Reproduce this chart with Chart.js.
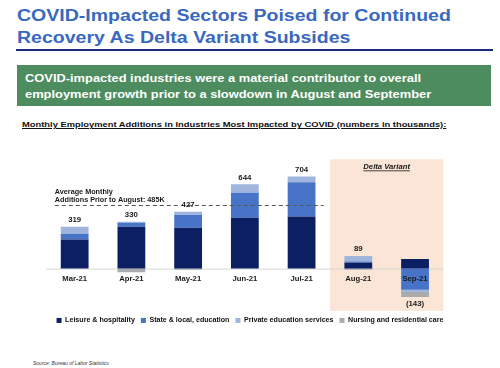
<!DOCTYPE html>
<html>
<head>
<meta charset="utf-8">
<script src="https://cdn.jsdelivr.net/npm/chart.js@4/dist/chart.umd.min.js"></script>
<style>
  html, body { margin: 0; padding: 0; }
  body { width: 500px; height: 368px; position: relative; overflow: hidden; background: #fff;
         font-family: "Liberation Sans", Arial, sans-serif; }
  .t { position: absolute; white-space: nowrap; transform-origin: 0 0; line-height: 1; }
  .title { color: #3868c0; font-weight: bold; font-size: 16px; transform: scaleX(1.22); left: 17px; }
  .green { position: absolute; left: 17px; top: 65px; width: 474px; height: 41px; background: #4d8c5e; }
  .gt { color: #fff; font-weight: bold; font-size: 11.2px; transform: scaleX(1.15); left: 25px; }
  .rule { position: absolute; left: 16px; top: 48.5px; width: 477px; height: 2px; background: #1d2a7e; }
  #wrap { position: absolute; left: 0; top: 140px; width: 500px; height: 194px; }
</style>
</head>
<body>
<div class="t title" style="top:7.8px">COVID-Impacted Sectors Poised for Continued</div>
<div class="t title" style="top:29.8px">Recovery As Delta Variant Subsides</div>
<div class="rule"></div>
<div class="green"></div>
<div class="t gt" style="top:73.2px">COVID-impacted industries were a material contributor to overall</div>
<div class="t gt" style="top:88.8px">employment growth prior to a slowdown in August and September</div>
<div class="t" style="left:22px;top:121.1px;font-size:7.8px;font-weight:bold;color:#111;text-decoration:underline;transform:scaleX(1.2)">Monthly Employment Additions in Industries Most Impacted by COVID (numbers in thousands):</div>
<div id="wrap"><canvas id="c"></canvas></div>
<div class="t" style="left:33px;top:361px;font-size:5px;font-style:italic;color:#333">Source: Bureau of Labor Statistics</div>

<script>
// ---- data (thousands of jobs) ----
const months     = ['Mar-21', 'Apr-21', 'May-21', 'Jun-21', 'Jul-21', 'Aug-21', 'Sep-21'];
const leisure    = [223, 320, 312, 388, 398, 45, 74];
const stateLocal = [44, 31, 97, 192, 262, 10, -161];
const privateEd  = [52, 7, 26, 64, 44, 42, -17];
const nursing    = [0, -28, -8, 0, 0, -8, -39];
const seriesNames = ['Leisure & hospitality', 'State & local, education', 'Private education services', 'Nursing and residential care'];
const deltaMonths = ['Aug-21', 'Sep-21'];
const avgLabel = ['Average Monthly', 'Additions Prior to August: '];

const colors = ['#0c1f63', '#4874c8', '#9fb5de', '#a9abaf'];
const allSeries = [leisure, stateLocal, privateEd, nursing];
const totals = months.map((_, i) => allSeries.reduce((s, a) => s + a[i], 0));
const preDelta = totals.filter((_, i) => !deltaMonths.includes(months[i]));
const avgPrior = Math.round(preDelta.reduce((a, b) => a + b, 0) / preDelta.length);

const FONT = '"Liberation Sans", Arial, sans-serif';
const SX = 1.15;
function txt(ctx, s, x, y, size, style, align, baseline, color) {
  ctx.save();
  ctx.font = style + ' ' + size + 'px ' + FONT;
  ctx.fillStyle = color || '#1a1a1a';
  ctx.textAlign = align;
  ctx.textBaseline = baseline;
  ctx.translate(x, y);
  ctx.scale(SX, 1);
  ctx.fillText(s, 0, 0);
  const w = ctx.measureText(s).width * SX;
  ctx.restore();
  return w;
}

const annot = {
  id: 'annot',
  beforeDatasetsDraw(chart) {
    const { ctx, chartArea: ca, scales: { x, y } } = chart;
    const i0 = months.indexOf(deltaMonths[0]);
    const bx = (x.getPixelForValue(i0 - 1) + x.getPixelForValue(i0)) / 2;
    ctx.save();
    ctx.fillStyle = '#fbe5d7';
    ctx.fillRect(bx, ca.top, ca.right - bx, ca.bottom - ca.top);
    const y0 = y.getPixelForValue(0);
    ctx.strokeStyle = '#d6d6d6';
    ctx.lineWidth = 1;
    ctx.beginPath();
    ctx.moveTo(ca.left, y0 + 0.5);
    ctx.lineTo(ca.right, y0 + 0.5);
    ctx.stroke();
    ctx.restore();
  },
  afterDatasetsDraw(chart) {
    const { ctx, chartArea: ca, scales: { x, y } } = chart;
    const cw = x.getPixelForValue(1) - x.getPixelForValue(0);
    const y0 = y.getPixelForValue(0);
    // average dashed line
    const ya = Math.round(y.getPixelForValue(avgPrior)) + 0.5;
    const xa0 = x.getPixelForValue(0) - 0.35 * cw;
    const xa1 = x.getPixelForValue(4) + 0.39 * cw;
    ctx.save();
    ctx.strokeStyle = '#555';
    ctx.lineWidth = 1;
    ctx.setLineDash([4, 3]);
    ctx.beginPath();
    ctx.moveTo(xa0, ya);
    ctx.lineTo(xa1, ya);
    ctx.stroke();
    ctx.restore();
    txt(ctx, avgLabel[0], xa0, ya - 11.6, 6.3, 'bold', 'left', 'alphabetic');
    txt(ctx, avgLabel[1] + avgPrior + 'K', xa0, ya - 4, 6.3, 'bold', 'left', 'alphabetic');
    // totals
    months.forEach((m, i) => {
      const pos = allSeries.reduce((s, a) => s + Math.max(0, a[i]), 0);
      const neg = allSeries.reduce((s, a) => s + Math.min(0, a[i]), 0);
      const xc = x.getPixelForValue(i);
      const t = totals[i];
      if (t >= 0) {
        txt(ctx, String(t), xc, y.getPixelForValue(pos) - 4.5, 6.8, 'bold', 'center', 'alphabetic');
      } else {
        txt(ctx, '(' + Math.abs(t) + ')', xc, y.getPixelForValue(neg) + 4, 6.8, 'bold', 'center', 'top');
      }
      txt(ctx, m, xc, y0 + 12, 6.7, 'bold', 'center', 'alphabetic');
    });
    // Delta Variant label
    const i0 = months.indexOf(deltaMonths[0]);
    const bx = (x.getPixelForValue(i0 - 1) + x.getPixelForValue(i0)) / 2;
    const cx = (bx + ca.right) / 2;
    const by = ca.top + 10;
    const w = txt(ctx, 'Delta Variant', cx, by, 6.7, 'italic bold', 'center', 'alphabetic');
    ctx.save();
    ctx.strokeStyle = '#1a1a1a';
    ctx.lineWidth = 0.8;
    ctx.beginPath();
    ctx.moveTo(cx - w / 2, by + 1.5);
    ctx.lineTo(cx + w / 2, by + 1.5);
    ctx.stroke();
    ctx.restore();
  }
};

const hiddenAxis = (pos, width) => ({
  position: pos,
  display: true,
  grid: { display: false },
  border: { display: false },
  ticks: { display: false },
  afterFit: (scale) => { scale.width = width; }
});

new Chart(document.getElementById('c'), {
  type: 'bar',
  data: {
    labels: months,
    datasets: allSeries.map((d, k) => ({
      label: seriesNames[k],
      data: d,
      backgroundColor: colors[k],
      borderWidth: 0,
      categoryPercentage: 1,
      barPercentage: 0.49
    }))
  },
  options: {
    responsive: true,
    maintainAspectRatio: false,
    animation: false,
    devicePixelRatio: 1,
    layout: { padding: { top: 19.3, bottom: 0, left: 0, right: 0 } },
    scales: {
      x: { stacked: true, display: false },
      y: Object.assign(hiddenAxis('left', 46.3), { stacked: true, min: -323, max: 835 }),
      yR: Object.assign(hiddenAxis('right', 56.6), { min: -323, max: 835 })
    },
    plugins: {
      tooltip: { enabled: false },
      legend: {
        position: 'bottom',
        labels: {
          boxWidth: 5, boxHeight: 5, padding: 6, color: '#111',
          font: { size: 7.1, weight: 'bold', family: FONT }
        }
      }
    }
  },
  plugins: [annot]
});
</script>
</body>
</html>
